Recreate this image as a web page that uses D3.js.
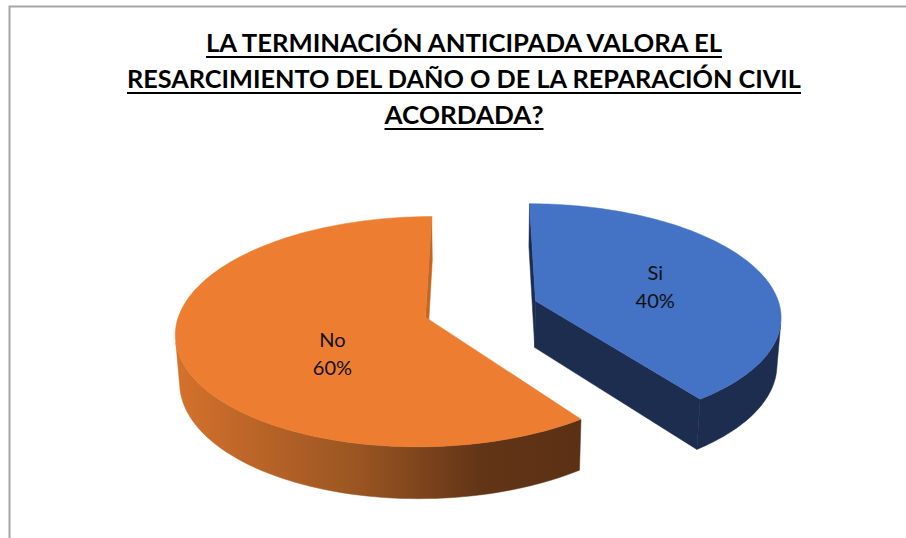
<!DOCTYPE html>
<html>
<head>
<meta charset="utf-8">
<script src="https://cdn.jsdelivr.net/npm/d3@7"></script>
<style>
  body { margin: 0; background: #fff; }
  svg { display: block; font-family: Lato, "Open Sans", sans-serif; }
</style>
</head>
<body>
<div id="chart"></div>
<script>
const categories = ["Si", "No"];
const values = [40, 60];
const percentLabels = ["40%", "60%"];
const titleLines = [
    "LA TERMINACIÓN ANTICIPADA VALORA EL",
    "RESARCIMIENTO DEL DAÑO O DE LA REPARACIÓN CIVIL",
    "ACORDADA?"
];

const width = 906, height = 538;

// 3d view settings (pie radius = 1)
const cx = 481, cy = 309;
const scale = 245;
const dist = 7.14;
const tilt = 27 * Math.PI / 180;
const thick = 0.218;
const explode = 0.236;
const cosT = Math.cos(tilt), sinT = Math.sin(tilt);
const cam = [0, dist * sinT, -dist * cosT];

function project(x, y, z) {
    const depth = dist + z * cosT - y * sinT;
    const f = scale * dist / depth;
    return [cx + x * f, cy - (y * cosT + z * sinT) * f];
}

const svg = d3.select("#chart").append("svg")
    .attr("width", width)
    .attr("height", height);

// frame lines
svg.append("path")
    .attr("d", `M9.5,${height}V6.5H${width}`)
    .attr("fill", "none")
    .attr("stroke", "#a6a6a6")
    .attr("stroke-width", 2);

// title
const title = svg.append("g");
const titleY = [52, 88, 124];
const titleW = [516, 674, 159];
titleLines.forEach((t, i) => {
    title.append("text")
        .attr("x", 464)
        .attr("y", titleY[i])
        .attr("text-anchor", "middle")
        .attr("font-size", 25)
        .attr("font-weight", "bold")
        .attr("fill", "#000")
        .attr("textLength", titleW[i])
        .attr("lengthAdjust", "spacingAndGlyphs")
        .text(t);
    title.append("rect")
        .attr("x", 464 - titleW[i] / 2)
        .attr("y", titleY[i] + 4)
        .attr("width", titleW[i])
        .attr("height", 2)
        .attr("fill", "#000");
});

const pie = d3.pie().sort(null).value(d => d);
const arcs = pie(values);

const topColors = ["#4472c4", "#ed7d31"];
const sideColors = ["#1c2d50", "url(#orangeSide)"];
const faceColors = ["#1c2d50", "#c5661f"];
// nudge of the data labels from the slice centroid
const labelShift = [[0, -8], [-18, 8]];

const defs = svg.append("defs");
const grad = defs.append("linearGradient")
    .attr("id", "orangeSide")
    .attr("gradientUnits", "userSpaceOnUse")
    .attr("x1", 176).attr("x2", 580).attr("y1", 0).attr("y2", 0);
grad.append("stop").attr("offset", 0).attr("stop-color", "#d4712c");
grad.append("stop").attr("offset", 0.45).attr("stop-color", "#9a5522");
grad.append("stop").attr("offset", 0.75).attr("stop-color", "#633517");
grad.append("stop").attr("offset", 1).attr("stop-color", "#5b3014");

const line = d3.line();
const g = svg.append("g");

const slices = arcs.map((a, i) => {
    const mid = (a.startAngle + a.endAngle) / 2;
    return {
        i: i,
        a0: a.startAngle,
        a1: a.endAngle,
        ox: explode * Math.sin(mid),
        oz: explode * Math.cos(mid)
    };
});

// farthest slice first
slices.sort((a, b) => b.oz - a.oz);

function facing(p, n) {
    return (cam[0] - p[0]) * n[0] + (cam[1] - p[1]) * n[1] + (cam[2] - p[2]) * n[2] > 0;
}

const labelPos = [];

slices.forEach(s => {
    const rim = a => [s.ox + Math.sin(a), s.oz + Math.cos(a)];
    const steps = 120;
    const angles = d3.range(steps + 1).map(k => s.a0 + (s.a1 - s.a0) * k / steps);

    // radial faces
    [[s.a0, -1], [s.a1, 1]].forEach(([a, sign]) => {
        const n = [sign * Math.cos(a), 0, -sign * Math.sin(a)];
        if (!facing([s.ox, 0, s.oz], n)) return;
        const r = rim(a);
        const pts = [
            project(s.ox, 0, s.oz),
            project(r[0], 0, r[1]),
            project(r[0], -thick, r[1]),
            project(s.ox, -thick, s.oz)
        ];
        g.append("path")
            .attr("d", line(pts) + "Z")
            .attr("fill", faceColors[s.i])
            .attr("stroke", faceColors[s.i])
            .attr("stroke-width", 0.5);
    });

    // curved outer wall, only the parts that face the camera
    let run = [];
    const runs = [];
    angles.forEach(a => {
        const r = rim(a);
        if (facing([r[0], 0, r[1]], [Math.sin(a), 0, Math.cos(a)])) {
            run.push(a);
        } else if (run.length) {
            runs.push(run);
            run = [];
        }
    });
    if (run.length) runs.push(run);
    runs.forEach(rn => {
        if (rn.length < 2) return;
        const topPts = rn.map(a => { const r = rim(a); return project(r[0], 0, r[1]); });
        const botPts = rn.slice().reverse().map(a => { const r = rim(a); return project(r[0], -thick, r[1]); });
        g.append("path")
            .attr("d", line(topPts.concat(botPts)) + "Z")
            .attr("fill", sideColors[s.i])
            .attr("stroke", sideColors[s.i])
            .attr("stroke-width", 0.5);
    });

    // top face
    const topFace = [project(s.ox, 0, s.oz)].concat(angles.map(a => {
        const r = rim(a);
        return project(r[0], 0, r[1]);
    }));
    g.append("path")
        .attr("d", line(topFace) + "Z")
        .attr("fill", topColors[s.i])
        .attr("stroke", topColors[s.i])
        .attr("stroke-width", 0.5);

    labelPos[s.i] = d3.polygonCentroid(topFace);
});

// data labels
categories.forEach((c, i) => {
    const p = [labelPos[i][0] + labelShift[i][0], labelPos[i][1] + labelShift[i][1]];
    const t = svg.append("text")
        .attr("text-anchor", "middle")
        .attr("font-size", 20)
        .attr("fill", "#111");
    t.append("tspan").attr("x", p[0]).attr("y", p[1] - 6).text(c);
    t.append("tspan").attr("x", p[0]).attr("y", p[1] + 22).text(percentLabels[i]);
});
</script>
</body>
</html>
